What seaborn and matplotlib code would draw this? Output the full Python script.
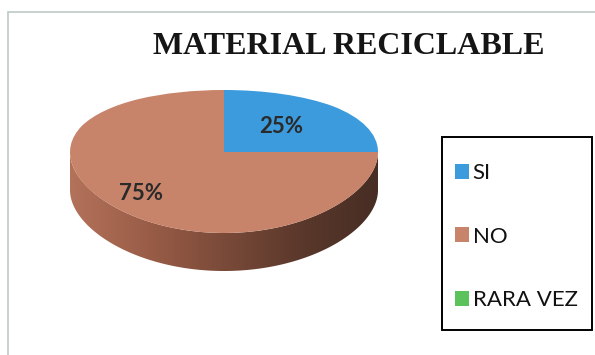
import numpy as np
import matplotlib
matplotlib.use("Agg")
import matplotlib.pyplot as plt
from matplotlib.patches import Polygon, Rectangle, PathPatch
from matplotlib.path import Path
from matplotlib.colors import LinearSegmentedColormap
import seaborn as sns

# Survey answers about recyclable material
categories = ["SI", "NO", "RARA VEZ"]
percentages = [25, 75, 0]
title = "MATERIAL RECICLABLE"

sns.set_theme(style="white")
plt.rcParams["font.family"] = ["Lato", "DejaVu Sans"]

colors = ["#3c9bdc", "#c8846a", "#5cc35c"]

W, H = 595, 355
fig = plt.figure(figsize=(W / 100, H / 100), dpi=100)
fig.patch.set_facecolor("white")

# light outer frame of the chart area
fig.patches.append(Rectangle((8 / W, -0.1), 1.2, 1.1 - 12 / H, transform=fig.transFigure,
                             fill=False, edgecolor="#c3cfcc", linewidth=1.3))

fig.text(349 / W, 1 - 47 / H, title, ha="center", va="center",
         fontfamily="Liberation Serif", fontweight="bold", fontsize=23, color="#151515")

# pie axes: x in radius units, y in screen pixels around the centre
px0, px1, py0, py1 = 70, 378, 85, 275
cy = 152
ax = fig.add_axes([px0 / W, 1 - py1 / H, (px1 - px0) / W, (py1 - py0) / H])

A_TILT, C_PERSP, DEPTH = 71.5, 9.5, 38.0


def tilt(y):
    """Map a unit-circle y value onto the tilted, perspective top face."""
    return A_TILT * y - C_PERSP * y ** 2


wedges, texts, autotexts = ax.pie(
    percentages, colors=colors, startangle=0, counterclock=True, radius=1,
    autopct=lambda p: f"{p:.0f}%" if p > 0 else "", pctdistance=0.55,
    textprops=dict(fontsize=16, fontweight="bold", color="#2a2a2a"),
    wedgeprops=dict(linewidth=0), labels=None, frame=False)
ax.set_aspect("auto")
ax.set_xlim(-1, 1)
ax.set_ylim(cy - py1, cy - py0)
ax.axis("off")

# redraw each wedge on the tilted top face
for w in wedges:
    path = w.get_path()
    v = path.vertices.copy()
    v[:, 1] = tilt(v[:, 1])
    ax.add_patch(PathPatch(Path(v, path.codes), facecolor=w.get_facecolor(),
                           edgecolor="none", zorder=3))
    w.remove()

# percentage labels on the top face
mids = np.cumsum([0] + percentages[:-1]) + np.array(percentages) / 2
for t, m, r in zip(autotexts, mids, [0.52, 0.76, 0.5]):
    ang = np.deg2rad(m * 3.6)
    t.set_position((r * np.cos(ang), tilt(r * np.sin(ang))))
    t.set_zorder(5)

# visible front side of the cylinder with a shading gradient
theta = np.linspace(np.pi, 2 * np.pi, 300)
top = np.column_stack([np.cos(theta), tilt(np.sin(theta))])
bot = np.column_stack([np.cos(theta[::-1]), tilt(np.sin(theta[::-1])) - DEPTH])
side = Polygon(np.vstack([top, bot]), closed=True, facecolor="none", edgecolor="none")
ax.add_patch(side)
cmap = LinearSegmentedColormap.from_list(
    "side", ["#b3725a", "#9a5d47", "#7a4a39", "#5a382b", "#472d24"])
grad = np.linspace(0, 1, 256).reshape(1, -1)
im = ax.imshow(grad, cmap=cmap, extent=[-1, 1, cy - py1, 5], aspect="auto",
               zorder=2, interpolation="bilinear")
im.set_clip_path(side)

# legend inside a black box
fig.patches.append(Rectangle((442 / W, 1 - 330 / H), 150 / W, 193 / H,
                             transform=fig.transFigure, fill=False,
                             edgecolor="black", linewidth=1.4))
leg = fig.legend(wedges, categories, loc="upper left",
                 bbox_to_anchor=(455 / W, 1 - 163 / H),
                 fontsize=16, frameon=False,
                 handlelength=0.65, handleheight=0.65, handletextpad=0.15,
                 labelspacing=1.96, borderpad=0, borderaxespad=0)
for txt in leg.get_texts():
    txt.set_color("#111111")

fig.savefig("out.png", dpi=100, facecolor="white")
